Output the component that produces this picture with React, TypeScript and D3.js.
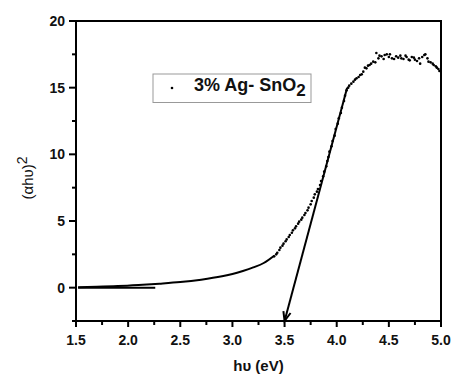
import React from "react";
import * as d3 from "d3";

// Smooth low-energy part of the curve (appears as continuous line)
const lineHv = [1.52, 1.7, 1.9, 2.1, 2.3, 2.5, 2.7, 2.9, 3.0, 3.1, 3.2, 3.3, 3.4];
const lineVal = [0.04, 0.07, 0.12, 0.2, 0.3, 0.42, 0.6, 0.85, 1.02, 1.25, 1.52, 1.85, 2.4];

// Scattered points (rise and plateau)
const dotHv = [
  3.40, 3.42, 3.43, 3.45, 3.46, 3.48, 3.49, 3.51, 3.52, 3.54, 3.55, 3.57, 3.58, 3.60, 3.61, 3.63,
  3.64, 3.66, 3.67, 3.69, 3.70, 3.72, 3.73, 3.75, 3.76, 3.78, 3.79, 3.81, 3.82, 3.84, 3.85, 3.87,
  3.88, 3.90, 3.91, 3.92, 3.93, 3.95, 3.96, 3.98, 3.99, 4.01, 4.02, 4.04, 4.05, 4.07, 4.08, 4.095,
  4.11, 4.12, 4.14, 4.16, 4.175, 4.19, 4.21, 4.225, 4.24, 4.255, 4.27, 4.285, 4.30, 4.315, 4.33,
  4.35, 4.37, 4.38, 4.40, 4.41, 4.43, 4.45, 4.46, 4.48, 4.50, 4.51, 4.53, 4.55, 4.57, 4.59, 4.61,
  4.62, 4.64, 4.66, 4.67, 4.69, 4.70, 4.72, 4.74, 4.75, 4.77, 4.79, 4.80, 4.82, 4.84, 4.85, 4.87,
  4.88, 4.90, 4.92, 4.93, 4.95, 4.96, 4.975, 4.985,
];
const dotVal = [
  2.35, 2.5, 2.62, 2.82, 3.0, 3.15, 3.3, 3.48, 3.62, 3.8, 3.95, 4.12, 4.3, 4.45, 4.6, 4.8,
  4.95, 5.1, 5.25, 5.45, 5.6, 5.8, 6.0, 6.25, 6.5, 6.75, 7.0, 7.2, 7.4, 7.7, 8.0, 8.35,
  8.7, 9.1, 9.5, 9.8, 10.2, 10.6, 11.0, 11.4, 11.9, 12.3, 12.7, 13.1, 13.5, 14.0, 14.4, 14.8,
  15.0, 15.15, 15.3, 15.45, 15.6, 15.7, 15.8, 15.95, 16.0, 16.2, 16.5, 16.45, 16.65, 16.7, 16.8,
  16.95, 16.9, 17.6, 17.2, 17.4, 17.35, 17.15, 17.45, 17.5, 17.3, 17.5, 17.2, 17.15, 17.35, 17.25, 17.4,
  17.2, 17.15, 17.4, 17.3, 17.1, 17.05, 17.3, 17.25, 17.1, 17.0, 17.2, 16.8, 17.3, 17.45, 17.5, 17.2,
  16.95, 16.9, 16.8, 16.7, 16.6, 16.5, 16.4, 16.25,
];

// Baseline segment at zero
const baseHv = [1.52, 2.26];
const baseVal = [0, 0];

// Linear fit (Tauc extrapolation) arrow
const fitHv = [4.1, 3.5];
const fitVal = [15.0, -2.5];

const xTicks = [1.5, 2.0, 2.5, 3.0, 3.5, 4.0, 4.5, 5.0];
const xMinor = [1.75, 2.25, 2.75, 3.25, 3.75, 4.25, 4.75];
const yTicks = [0, 5, 10, 15, 20];
const yMinor = [-2.5, 2.5, 7.5, 12.5, 17.5];

const legendLabel = "3% Ag- SnO";

export default function App() {
  const W = 453, H = 374;
  const L = 76, R = 441, T = 21, B = 321;
  const x = d3.scaleLinear().domain([1.5, 5.0]).range([L, R]);
  const y = d3.scaleLinear().domain([-2.5, 20]).range([B, T]);
  const font = "'Liberation Sans', Arial, sans-serif";

  const linePath = d3
    .line<number>()
    .x((_, i) => x(lineHv[i]))
    .y((d) => y(d))
    .curve(d3.curveMonotoneX)(lineVal) || "";

  const x1 = x(fitHv[0]), y1 = y(fitVal[0]);
  const x2 = x(fitHv[1]), y2 = y(fitVal[1]);
  const ang = Math.atan2(y2 - y1, x2 - x1);
  const ah = 10, aw = 0.38;
  const w1 = [x2 - ah * Math.cos(ang - aw), y2 - ah * Math.sin(ang - aw)];
  const w2 = [x2 - ah * Math.cos(ang + aw), y2 - ah * Math.sin(ang + aw)];

  return (
    <svg width={W} height={H} style={{ position: "absolute", left: 0, top: 0, background: "#fff" }}>
      <rect x={0} y={0} width={W} height={H} fill="#fff" />
      {/* frame */}
      <rect x={L} y={T} width={R - L} height={B - T} fill="none" stroke="#000" strokeWidth={2} shapeRendering="crispEdges" />
      {/* x ticks */}
      {xTicks.map((t) => (
        <line key={"xt" + t} x1={x(t)} x2={x(t)} y1={B} y2={B + 6} stroke="#000" strokeWidth={2} />
      ))}
      {xMinor.map((t) => (
        <line key={"xm" + t} x1={x(t)} x2={x(t)} y1={B} y2={B + 4} stroke="#000" strokeWidth={2} />
      ))}
      {xTicks.map((t) => (
        <text key={"xl" + t} x={x(t)} y={344.5} textAnchor="middle" fontFamily={font} fontWeight="bold" fontSize={14} fill="#111">
          {t.toFixed(1)}
        </text>
      ))}
      {/* y ticks */}
      {yTicks.map((t) => (
        <line key={"yt" + t} x1={L - 7} x2={L} y1={y(t)} y2={y(t)} stroke="#000" strokeWidth={2} />
      ))}
      {yMinor.map((t) => (
        <line key={"ym" + t} x1={L - 4} x2={L} y1={y(t)} y2={y(t)} stroke="#000" strokeWidth={2} />
      ))}
      {yTicks.map((t) => (
        <text key={"yl" + t} x={65} y={y(t) + 5} textAnchor="end" fontFamily={font} fontWeight="bold" fontSize={14} fill="#111">
          {t}
        </text>
      ))}
      {/* axis titles */}
      <text x={(L + R) / 2} y={371} textAnchor="middle" fontFamily={font} fontWeight="bold" fontSize={15} fill="#111">
        hυ (eV)
      </text>
      <text transform={`translate(33,${178}) rotate(-90)`} textAnchor="middle" fontFamily={font} fontSize={15} fill="#111">
        (αhυ)<tspan fontSize={14} dy={-6}>2</tspan>
      </text>
      {/* data */}
      <path d={linePath} fill="none" stroke="#000" strokeWidth={2} />
      <line x1={x(baseHv[0])} x2={x(baseHv[1])} y1={y(baseVal[0])} y2={y(baseVal[1])} stroke="#000" strokeWidth={2} />
      {dotVal.map((v, i) => (
        <circle key={"d" + i} cx={x(dotHv[i])} cy={y(v)} r={1.3} fill="#000" />
      ))}
      {/* fit arrow */}
      <line x1={x1} y1={y1} x2={x2} y2={y2} stroke="#000" strokeWidth={2} />
      <path d={`M${w1[0]},${w1[1]} L${x2},${y2} L${w2[0]},${w2[1]}`} fill="none" stroke="#000" strokeWidth={2} />
      {/* legend */}
      <rect x={153} y={74} width={158} height={28.5} fill="#fff" stroke="#999" strokeWidth={1} />
      <circle cx={172} cy={88} r={1.3} fill="#000" />
      <text x={194} y={91} fontFamily={font} fontWeight="bold" fontSize={18} fill="#111">
        {legendLabel}
        <tspan fontSize={17} dy={5}>2</tspan>
      </text>
    </svg>
  );
}
